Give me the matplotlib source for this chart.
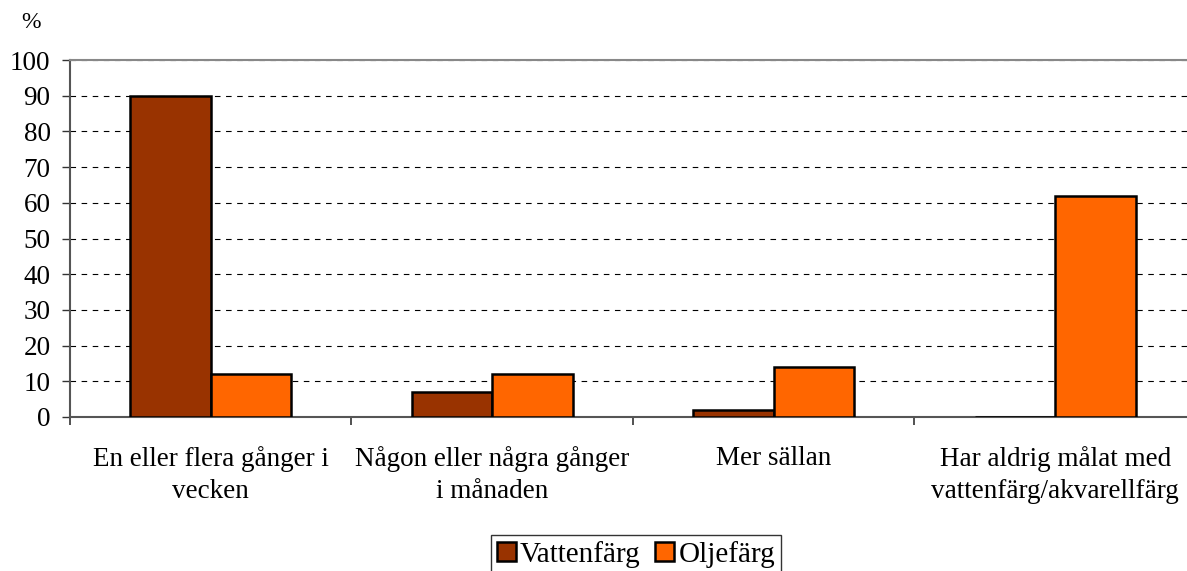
import matplotlib
matplotlib.use("Agg")
import matplotlib.pyplot as plt
import numpy as np

categories = ["En eller flera gånger i\nvecken",
              "Någon eller några gånger\ni månaden",
              "Mer sällan",
              "Har aldrig målat med\nvattenfärg/akvarellfärg"]
series_names = ["Vattenfärg", "Oljefärg"]
vattenfarg = [90, 7, 2, 0]
oljefarg = [12, 12, 14, 62]
yticks = list(range(0, 101, 10))

plt.rcParams['font.family'] = ['Liberation Serif', 'DejaVu Serif']
FS = 19.5

W, H = 1187, 571
fig = plt.figure(figsize=(W / 100, H / 100), dpi=100)
left, right, top, bottom = 70, 1196, 60, 417
ax = fig.add_axes([left / W, 1 - bottom / H, (right - left) / W, (bottom - top) / H])

x = np.arange(len(categories))
bw = 0.286
ax.bar(x - bw / 2, vattenfarg, width=bw, color="#993300", edgecolor="black",
       linewidth=1.8, label=series_names[0], zorder=3)
ax.bar(x + bw / 2, oljefarg, width=bw, color="#FF6600", edgecolor="black",
       linewidth=1.8, label=series_names[1], zorder=3)

ax.set_xlim(-0.5, len(categories) - 0.5)
ax.set_ylim(0, 100)
ax.set_yticks(yticks)
ax.set_yticklabels([str(v) for v in yticks], fontsize=FS)
ax.yaxis.grid(True, color="black", linestyle=(0, (5, 5)), linewidth=0.8, zorder=0)
ax.set_axisbelow(True)

ax.set_xticks(np.arange(-0.5, len(categories), 1.0))
ax.set_xticklabels([])
ax.set_xticks(x, minor=True)
ax.set_xticklabels(categories, minor=True, fontsize=FS, linespacing=1.35, va="top")
ax.tick_params(axis="x", which="minor", length=0, pad=21)
ax.tick_params(axis="x", which="major", length=6, width=1.2, color="#333333", direction="out")
ax.tick_params(axis="y", length=6, width=1, color="#333333", direction="out", pad=8)

for s in ["left", "bottom"]:
    ax.spines[s].set_color("#555555")
    ax.spines[s].set_linewidth(1.5)
ax.spines["top"].set_color("#888888")
ax.spines["top"].set_linewidth(1.5)
ax.spines["right"].set_visible(False)

fig.text(31 / W, 1 - 23 / H, "%", fontsize=17, ha="center", va="center")

leg = fig.legend(loc="lower center", bbox_to_anchor=(636 / W, -0.03), ncol=2,
                 fontsize=21, frameon=True, fancybox=False, edgecolor="black",
                 handlelength=0.65, handleheight=0.65, handletextpad=0.15,
                 columnspacing=0.5, borderpad=0.2)
leg.get_frame().set_linewidth(1.0)

fig.savefig("out.png", dpi=100)
